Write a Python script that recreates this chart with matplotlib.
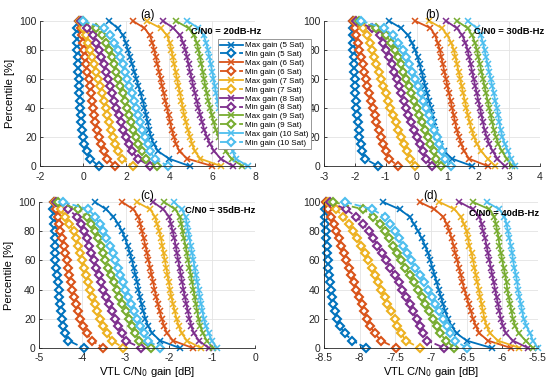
import matplotlib
matplotlib.use('Agg')
import matplotlib.pyplot as plt

plt.rcParams['font.family'] = ['Liberation Sans', 'DejaVu Sans']

# percentile levels of every curve (top to bottom)
pct = [100, 95, 90, 85, 80, 75, 70, 65, 60, 55, 50, 45, 40, 35, 30, 25, 20, 15, 10, 5, 0]
sats = [5, 6, 7, 8, 9, 10]
colors = ['#0072BD', '#D95319', '#EDB120', '#7E2F8E', '#77AC30', '#4DBEEE']

# (a) C/N0 = 20 dB-Hz
a_max = [
    [1.2, 1.6, 1.85, 1.98, 2.08, 2.18, 2.28, 2.38, 2.47, 2.57, 2.67, 2.77, 2.85, 2.93, 3.0, 3.07, 3.15, 3.28, 3.5, 4.0, 4.95],
    [2.3, 2.85, 3.1, 3.22, 3.3, 3.38, 3.45, 3.53, 3.6, 3.67, 3.75, 3.82, 3.9, 3.97, 4.05, 4.12, 4.22, 4.32, 4.48, 4.85, 6.0],
    [2.95, 3.6, 3.9, 4.02, 4.1, 4.17, 4.23, 4.3, 4.36, 4.43, 4.5, 4.57, 4.63, 4.7, 4.78, 4.87, 4.97, 5.07, 5.2, 5.45, 6.4],
    [3.7, 4.2, 4.5, 4.65, 4.75, 4.83, 4.9, 4.97, 5.05, 5.12, 5.2, 5.28, 5.36, 5.45, 5.53, 5.63, 5.75, 5.9, 6.1, 6.4, 6.95],
    [4.3, 4.9, 5.15, 5.28, 5.36, 5.43, 5.5, 5.56, 5.62, 5.68, 5.75, 5.82, 5.9, 5.98, 6.07, 6.17, 6.3, 6.45, 6.62, 6.9, 7.4],
    [4.85, 5.35, 5.6, 5.72, 5.8, 5.87, 5.93, 6.0, 6.06, 6.12, 6.18, 6.25, 6.32, 6.4, 6.48, 6.57, 6.67, 6.8, 6.95, 7.1, 7.65],
]
a_min = [
    [-0.2, -0.3, -0.3, -0.28, -0.27, -0.25, -0.23, -0.22, -0.2, -0.2, -0.18, -0.15, -0.13, -0.1, -0.08, -0.05, -0.02, 0.05, 0.18, 0.32, 0.72],
    [-0.2, -0.1, -0.05, 0.0, 0.05, 0.1, 0.15, 0.2, 0.25, 0.3, 0.35, 0.4, 0.45, 0.5, 0.57, 0.65, 0.75, 0.85, 0.98, 1.12, 1.5],
    [-0.15, 0.0, 0.12, 0.22, 0.32, 0.42, 0.52, 0.6, 0.7, 0.78, 0.87, 0.95, 1.04, 1.12, 1.2, 1.3, 1.4, 1.5, 1.62, 1.8, 2.3],
    [-0.1, 0.2, 0.45, 0.6, 0.73, 0.85, 0.95, 1.05, 1.15, 1.25, 1.35, 1.45, 1.55, 1.65, 1.75, 1.87, 2.0, 2.12, 2.28, 2.55, 3.1],
    [0.0, 0.6, 0.88, 1.05, 1.2, 1.32, 1.43, 1.53, 1.63, 1.73, 1.83, 1.93, 2.03, 2.13, 2.23, 2.33, 2.45, 2.57, 2.72, 2.92, 3.45],
    [0.0, 0.95, 1.25, 1.45, 1.6, 1.73, 1.84, 1.95, 2.05, 2.15, 2.25, 2.35, 2.45, 2.55, 2.65, 2.75, 2.87, 3.0, 3.12, 3.32, 3.95],
]

# (b) C/N0 = 30 dB-Hz
b_max = [
    [-0.9, -0.5, -0.28, -0.15, -0.05, 0.03, 0.1, 0.16, 0.22, 0.28, 0.34, 0.4, 0.46, 0.51, 0.56, 0.61, 0.67, 0.76, 0.9, 1.15, 1.8],
    [-0.05, 0.45, 0.6, 0.68, 0.75, 0.8, 0.85, 0.9, 0.95, 1.0, 1.05, 1.1, 1.15, 1.2, 1.25, 1.3, 1.37, 1.45, 1.55, 1.7, 2.3],
    [0.4, 0.82, 1.0, 1.12, 1.2, 1.26, 1.31, 1.36, 1.41, 1.46, 1.51, 1.56, 1.61, 1.66, 1.72, 1.78, 1.86, 1.96, 2.1, 2.3, 2.55],
    [0.95, 1.3, 1.48, 1.58, 1.65, 1.7, 1.75, 1.8, 1.85, 1.9, 1.95, 2.0, 2.05, 2.1, 2.15, 2.2, 2.27, 2.35, 2.47, 2.62, 2.85],
    [1.3, 1.65, 1.8, 1.89, 1.95, 2.0, 2.05, 2.1, 2.15, 2.2, 2.25, 2.3, 2.35, 2.4, 2.45, 2.5, 2.57, 2.65, 2.77, 2.92, 3.1],
    [1.65, 1.95, 2.08, 2.15, 2.2, 2.25, 2.3, 2.35, 2.4, 2.45, 2.5, 2.55, 2.6, 2.64, 2.68, 2.72, 2.78, 2.86, 2.96, 3.06, 3.2],
]
b_min = [
    [-2.05, -2.05, -2.05, -2.05, -2.05, -2.04, -2.03, -2.02, -2.0, -1.99, -1.98, -1.97, -1.95, -1.93, -1.91, -1.88, -1.85, -1.81, -1.76, -1.67, -1.25],
    [-2.05, -2.0, -1.95, -1.9, -1.85, -1.8, -1.75, -1.7, -1.65, -1.6, -1.54, -1.48, -1.42, -1.36, -1.3, -1.23, -1.15, -1.08, -1.0, -0.9, -0.6],
    [-2.0, -1.75, -1.6, -1.52, -1.45, -1.37, -1.3, -1.22, -1.15, -1.08, -1.0, -0.93, -0.85, -0.77, -0.68, -0.6, -0.5, -0.4, -0.3, -0.2, -0.05],
    [-1.95, -1.45, -1.2, -1.08, -0.98, -0.88, -0.8, -0.72, -0.64, -0.56, -0.49, -0.42, -0.35, -0.27, -0.18, -0.09, 0.0, 0.1, 0.2, 0.3, 0.5],
    [-1.85, -1.3, -1.0, -0.83, -0.7, -0.6, -0.51, -0.43, -0.35, -0.26, -0.17, -0.08, 0.0, 0.08, 0.17, 0.26, 0.36, 0.45, 0.55, 0.63, 0.8],
    [-1.8, -1.05, -0.78, -0.6, -0.45, -0.34, -0.24, -0.14, -0.05, 0.04, 0.13, 0.22, 0.3, 0.39, 0.48, 0.56, 0.65, 0.73, 0.82, 0.92, 1.1],
]

# (c) C/N0 = 35 dB-Hz
c_max = [
    [-3.71, -3.45, -3.28, -3.17, -3.08, -3.01, -2.95, -2.9, -2.85, -2.81, -2.77, -2.73, -2.7, -2.67, -2.63, -2.59, -2.54, -2.48, -2.38, -2.2, -1.75],
    [-3.08, -2.82, -2.7, -2.66, -2.62, -2.58, -2.54, -2.5, -2.47, -2.43, -2.4, -2.36, -2.33, -2.29, -2.25, -2.21, -2.16, -2.11, -2.04, -1.9, -1.45],
    [-2.74, -2.43, -2.32, -2.27, -2.22, -2.18, -2.15, -2.12, -2.09, -2.06, -2.03, -2.0, -1.97, -1.94, -1.9, -1.86, -1.82, -1.77, -1.7, -1.58, -1.26],
    [-2.36, -2.13, -1.99, -1.95, -1.91, -1.87, -1.84, -1.81, -1.78, -1.75, -1.72, -1.69, -1.66, -1.63, -1.59, -1.56, -1.52, -1.48, -1.42, -1.3, -1.08],
    [-2.11, -1.85, -1.74, -1.71, -1.68, -1.65, -1.61, -1.58, -1.55, -1.52, -1.49, -1.46, -1.43, -1.4, -1.37, -1.34, -1.31, -1.27, -1.21, -1.12, -0.98],
    [-1.88, -1.7, -1.61, -1.58, -1.55, -1.52, -1.49, -1.46, -1.43, -1.4, -1.37, -1.34, -1.31, -1.28, -1.25, -1.22, -1.19, -1.14, -1.08, -1.0, -0.89],
]
c_min = [
    [-4.66, -4.67, -4.66, -4.65, -4.64, -4.64, -4.63, -4.63, -4.62, -4.6, -4.58, -4.57, -4.55, -4.53, -4.51, -4.49, -4.47, -4.44, -4.4, -4.32, -3.97],
    [-4.66, -4.6, -4.56, -4.54, -4.51, -4.47, -4.43, -4.4, -4.36, -4.33, -4.3, -4.27, -4.24, -4.2, -4.15, -4.1, -4.05, -3.98, -3.9, -3.78, -3.51],
    [-4.62, -4.5, -4.4, -4.3, -4.2, -4.15, -4.1, -4.05, -4.01, -3.96, -3.91, -3.87, -3.82, -3.77, -3.71, -3.65, -3.59, -3.52, -3.43, -3.31, -3.05],
    [-4.6, -4.33, -4.12, -4.04, -3.97, -3.9, -3.84, -3.79, -3.74, -3.68, -3.62, -3.56, -3.51, -3.45, -3.38, -3.31, -3.24, -3.17, -3.09, -3.0, -2.64],
    [-4.57, -4.1, -3.89, -3.79, -3.7, -3.63, -3.57, -3.52, -3.47, -3.4, -3.33, -3.27, -3.2, -3.14, -3.07, -3.0, -2.93, -2.86, -2.78, -2.68, -2.42],
    [-4.44, -3.86, -3.7, -3.6, -3.51, -3.44, -3.36, -3.3, -3.24, -3.18, -3.12, -3.06, -3.01, -2.95, -2.88, -2.81, -2.74, -2.66, -2.58, -2.48, -2.2],
]

# (d) C/N0 = 40 dB-Hz
d_max = [
    [-7.67, -7.44, -7.3, -7.24, -7.18, -7.13, -7.08, -7.04, -7.01, -6.98, -6.95, -6.92, -6.89, -6.86, -6.83, -6.8, -6.76, -6.71, -6.64, -6.5, -6.15],
    [-7.16, -6.95, -6.83, -6.78, -6.74, -6.71, -6.68, -6.66, -6.63, -6.61, -6.58, -6.56, -6.53, -6.5, -6.47, -6.44, -6.41, -6.37, -6.32, -6.2, -5.88],
    [-6.88, -6.67, -6.58, -6.54, -6.5, -6.48, -6.46, -6.43, -6.41, -6.39, -6.37, -6.35, -6.33, -6.31, -6.29, -6.27, -6.25, -6.22, -6.17, -6.06, -5.76],
    [-6.6, -6.41, -6.32, -6.29, -6.27, -6.24, -6.22, -6.2, -6.18, -6.16, -6.14, -6.12, -6.1, -6.08, -6.06, -6.04, -6.02, -5.99, -5.95, -5.85, -5.64],
    [-6.41, -6.18, -6.11, -6.09, -6.07, -6.05, -6.04, -6.02, -6.0, -5.98, -5.96, -5.94, -5.93, -5.91, -5.89, -5.87, -5.85, -5.82, -5.77, -5.67, -5.57],
    [-6.22, -6.04, -5.97, -5.94, -5.92, -5.9, -5.88, -5.86, -5.85, -5.83, -5.81, -5.79, -5.78, -5.76, -5.74, -5.72, -5.7, -5.66, -5.61, -5.57, -5.5],
]
d_min = [
    [-8.47, -8.48, -8.48, -8.48, -8.47, -8.47, -8.46, -8.46, -8.45, -8.44, -8.43, -8.42, -8.4, -8.39, -8.37, -8.35, -8.32, -8.28, -8.21, -8.1, -7.91],
    [-8.47, -8.44, -8.4, -8.36, -8.33, -8.29, -8.26, -8.22, -8.19, -8.15, -8.12, -8.08, -8.05, -8.01, -7.97, -7.94, -7.9, -7.85, -7.79, -7.7, -7.49],
    [-8.44, -8.33, -8.23, -8.15, -8.09, -8.03, -7.98, -7.93, -7.88, -7.83, -7.79, -7.74, -7.7, -7.65, -7.61, -7.56, -7.51, -7.47, -7.42, -7.35, -7.16],
    [-8.42, -8.19, -8.05, -7.95, -7.87, -7.81, -7.75, -7.69, -7.63, -7.57, -7.51, -7.45, -7.4, -7.35, -7.3, -7.25, -7.2, -7.16, -7.11, -7.05, -6.81],
    [-8.37, -7.95, -7.81, -7.72, -7.65, -7.59, -7.53, -7.47, -7.42, -7.36, -7.3, -7.24, -7.18, -7.13, -7.08, -7.03, -6.97, -6.92, -6.87, -6.79, -6.67],
    [-8.2, -7.82, -7.65, -7.57, -7.51, -7.45, -7.39, -7.33, -7.28, -7.22, -7.16, -7.1, -7.04, -6.99, -6.94, -6.89, -6.83, -6.78, -6.73, -6.66, -6.5],
]

panels = [
    ('(a)', 'C/N0 = 20dB-Hz', a_max, a_min, [-2, 8], [-2, 0, 2, 4, 6, 8]),
    ('(b)', 'C/N0 = 30dB-Hz', b_max, b_min, [-3, 4], [-3, -2, -1, 0, 1, 2, 3, 4]),
    ('(c)', 'C/N0 = 35dB-Hz', c_max, c_min, [-5, 0], [-5, -4, -3, -2, -1, 0]),
    ('(d)', 'C/N0 = 40dB-Hz', d_max, d_min, [-8.5, -5.5], [-8.5, -8, -7.5, -7, -6.5, -6, -5.5]),
]
rects = [
    [0.073, 0.562, 0.391, 0.383],
    [0.589, 0.562, 0.393, 0.383],
    [0.071, 0.082, 0.393, 0.385],
    [0.589, 0.082, 0.389, 0.385],
]
note_pos = [(0.70, 0.925), (0.694, 0.925), (0.676, 0.94), (0.678, 0.918)]

fig = plt.figure(figsize=(5.5, 3.79), dpi=100)

for i, (title, note, mx, mn, xlim, xticks) in enumerate(panels):
    ax = fig.add_axes(rects[i])
    for k in range(len(sats)):
        ax.plot(mx[k], pct, '-', marker='x', color=colors[k], lw=1.3, ms=4.5, mew=1.1,
                clip_on=False, label='Max gain (%d Sat)' % sats[k])
        ax.plot(mn[k], pct, '--', marker='D', color=colors[k], lw=1.3, ms=3.8, mew=1.5,
                mfc='white', clip_on=False, label='Min gain (%d Sat)' % sats[k])
    ax.set_xlim(xlim)
    ax.set_ylim(0, 100)
    ax.set_xticks(xticks)
    ax.set_xticklabels(['%g' % t for t in xticks])
    ax.set_yticks([0, 20, 40, 60, 80, 100])
    ax.grid(True, color='#e3e3e3', lw=0.6)
    ax.set_axisbelow(True)
    for s in ['top', 'right']:
        ax.spines[s].set_visible(False)
    for s in ['left', 'bottom']:
        ax.spines[s].set_color('#262626')
        ax.spines[s].set_linewidth(0.6)
    ax.tick_params(direction='in', length=2.5, width=0.6, labelsize=7.5, colors='#262626')
    ax.tick_params(axis='x', pad=4)
    ax.tick_params(axis='y', pad=2.5)
    ax.set_title(title, fontsize=8.5, pad=1.5)
    ax.text(note_pos[i][0], note_pos[i][1], note, transform=ax.transAxes, fontsize=6.8,
            fontweight='bold', ha='left', va='center', zorder=5)
    if i in (0, 2):
        ax.set_ylabel('Percentile [%]', fontsize=8, labelpad=3)
    if i in (2, 3):
        ax.set_xlabel('VTL C/N$_0$ gain [dB]', fontsize=8, labelpad=1)
    if i == 0:
        handles, labels = ax.get_legend_handles_labels()

leg = fig.legend(handles, labels, loc='upper left', bbox_to_anchor=(0.396, 0.896),
                 fontsize=5.8, frameon=True, fancybox=False,
                 edgecolor='#888888', framealpha=1.0, borderpad=0.3, labelspacing=0.15,
                 handlelength=2.8, handletextpad=0.3, borderaxespad=0)
leg.get_frame().set_linewidth(0.6)

fig.savefig('out.png', dpi=100)
